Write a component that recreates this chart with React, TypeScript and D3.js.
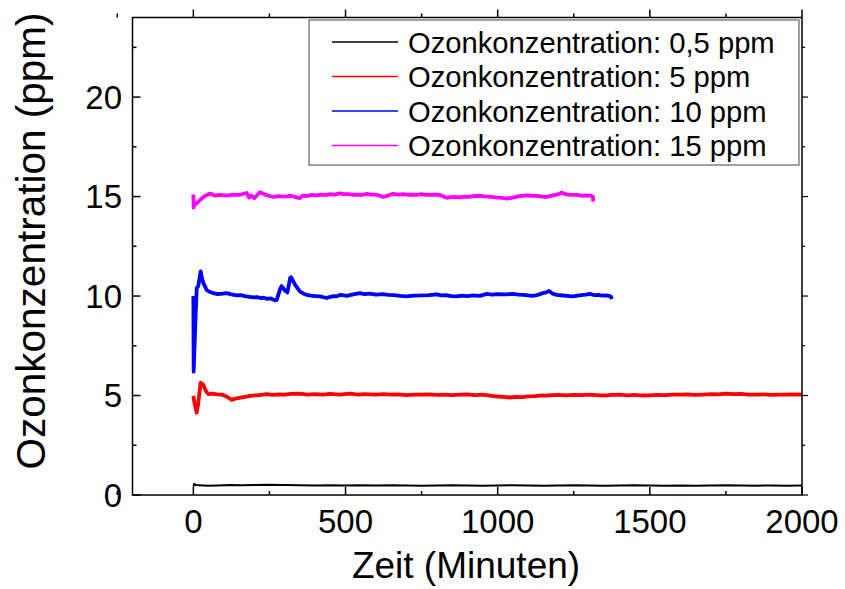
import React from "react";
import * as d3 from "d3";

// Ozone concentration traces: [time in minutes, concentration in ppm]
const series05: [number, number][] = [
  [0, 0.42], [3, 0.56], [8, 0.5], [20, 0.49], [45, 0.47], [80, 0.48], [120, 0.5], [160, 0.49],
  [200, 0.5], [250, 0.51], [300, 0.5], [350, 0.49], [400, 0.48], [450, 0.49], [500, 0.48],
  [550, 0.49], [600, 0.48], [650, 0.49], [700, 0.48], [750, 0.47], [800, 0.48], [850, 0.49],
  [900, 0.48], [950, 0.47], [1000, 0.48], [1050, 0.49], [1100, 0.48], [1150, 0.47], [1200, 0.48],
  [1250, 0.49], [1300, 0.48], [1350, 0.47], [1400, 0.48], [1450, 0.49], [1500, 0.48], [1550, 0.47],
  [1600, 0.48], [1650, 0.47], [1700, 0.48], [1750, 0.49], [1800, 0.48], [1850, 0.47], [1900, 0.48],
  [1950, 0.47], [2000, 0.48],
];

const series5: [number, number][] = [
  [0, 4.98], [4, 4.6], [11, 4.14], [16, 4.6], [24, 5.65], [33, 5.53], [42, 5.2], [49, 5.07],
  [62, 5.1], [77, 5.06], [95, 5.04], [109, 4.95], [126, 4.78], [142, 4.86], [165, 4.92], [186, 4.98],
  [215, 5.02], [241, 5.07], [260, 5.03], [280, 5.06], [300, 5.04], [320, 5.08], [350, 5.1], [375, 5.05],
  [400, 5.07], [425, 5.04], [450, 5.08], [480, 5.05], [515, 5.1], [540, 5.05], [560, 5.07], [600, 5.04],
  [625, 5.07], [650, 5.05], [675, 5.06], [700, 5.02], [725, 5.05], [750, 5.04], [775, 5.06], [800, 5.03],
  [825, 5.05], [850, 5.02], [875, 5.05], [900, 5.06], [925, 5.02], [950, 5.04], [975, 5.0], [1000, 4.95],
  [1020, 4.93], [1040, 4.9], [1060, 4.93], [1080, 4.92], [1100, 4.96], [1120, 4.97], [1140, 5.0],
  [1160, 4.99], [1180, 5.02], [1200, 5.03], [1225, 5.01], [1250, 5.03], [1275, 5.02], [1300, 5.05],
  [1325, 5.02], [1350, 5.0], [1375, 5.03], [1400, 5.04], [1425, 5.01], [1450, 5.03], [1475, 5.0],
  [1500, 5.01], [1525, 5.03], [1550, 5.02], [1575, 5.05], [1600, 5.04], [1625, 5.06], [1650, 5.03],
  [1675, 5.05], [1700, 5.07], [1725, 5.06], [1750, 5.1], [1775, 5.07], [1800, 5.08], [1825, 5.05],
  [1850, 5.04], [1875, 5.06], [1900, 5.03], [1925, 5.05], [1950, 5.04], [1975, 5.06], [2000, 5.04],
];

const series10: [number, number][] = [
  [0, 10.0], [1, 6.2], [5, 8.0], [11, 10.4], [16, 10.5], [24, 11.24], [28, 10.9], [33, 10.65],
  [44, 10.3], [55, 10.2], [65, 10.15], [80, 10.1], [97, 10.12], [109, 10.15], [125, 10.08],
  [142, 10.03], [155, 10.05], [170, 10.0], [185, 9.96], [197, 9.93], [210, 9.95], [220, 9.9],
  [232, 9.92], [241, 9.86], [255, 9.88], [268, 9.78], [274, 9.81], [285, 10.35], [290, 10.5],
  [301, 10.28], [309, 10.18], [318, 10.9], [321, 10.95], [334, 10.57], [350, 10.23], [362, 10.12],
  [372, 10.06], [386, 10.02], [400, 10.0], [416, 9.98], [428, 9.94], [438, 9.9], [450, 9.96],
  [460, 10.0], [472, 9.98], [482, 10.06], [495, 10.03], [504, 10.01], [525, 10.08], [547, 10.15],
  [562, 10.1], [580, 10.12], [600, 10.07], [623, 10.1], [640, 10.06], [660, 10.05], [680, 10.01],
  [701, 9.98], [725, 10.02], [750, 10.03], [775, 10.05], [800, 10.08], [815, 10.03], [830, 10.04],
  [848, 10.0], [865, 9.98], [882, 10.02], [900, 10.0], [920, 10.03], [942, 10.01], [964, 10.11],
  [982, 10.07], [1000, 10.1], [1025, 10.08], [1050, 10.11], [1068, 10.07], [1085, 10.06],
  [1100, 10.03], [1116, 10.01], [1132, 10.06], [1149, 10.15], [1160, 10.18], [1169, 10.26],
  [1180, 10.12], [1194, 10.06], [1207, 10.04], [1220, 10.02], [1235, 10.0], [1248, 9.98],
  [1262, 10.02], [1275, 10.05], [1290, 10.07], [1303, 10.11], [1316, 10.05], [1330, 10.06],
  [1345, 10.02], [1358, 10.03], [1368, 10.0], [1372, 9.98], [1375, 9.85],
];

const series15: [number, number][] = [
  [0, 15.1], [1, 14.45], [4, 14.6], [10, 14.65], [20, 14.8], [35, 15.0], [55, 15.15], [70, 15.05],
  [90, 15.08], [110, 15.05], [130, 15.1], [150, 15.08], [175, 15.18], [183, 14.95], [190, 15.05],
  [200, 14.92], [210, 15.08], [219, 15.22], [235, 15.1], [248, 15.04], [262, 14.98], [280, 15.02],
  [300, 15.0], [320, 15.04], [340, 14.96], [350, 14.92], [360, 15.05], [375, 15.03], [390, 15.08],
  [405, 15.06], [420, 15.1], [435, 15.07], [450, 15.12], [465, 15.1], [480, 15.16], [495, 15.12],
  [510, 15.12], [525, 15.09], [540, 15.1], [555, 15.08], [570, 15.13], [585, 15.1], [600, 15.1],
  [612, 15.05], [623, 14.98], [640, 15.05], [656, 15.14], [672, 15.1], [690, 15.12], [705, 15.09],
  [720, 15.1], [735, 15.08], [750, 15.12], [765, 15.09], [780, 15.08], [795, 15.1], [810, 15.08],
  [820, 15.02], [832, 14.94], [845, 14.97], [860, 14.98], [875, 14.96], [890, 15.0], [905, 14.98],
  [920, 15.02], [942, 15.04], [955, 15.01], [970, 15.0], [985, 14.97], [1000, 14.95], [1015, 14.93],
  [1030, 14.9], [1045, 14.94], [1060, 14.98], [1078, 15.03], [1095, 15.06], [1112, 15.04],
  [1130, 15.03], [1145, 15.0], [1161, 14.98], [1175, 15.03], [1190, 15.08], [1200, 15.12],
  [1211, 15.2], [1220, 15.13], [1230, 15.1], [1245, 15.08], [1260, 15.08], [1275, 15.05],
  [1290, 15.06], [1305, 15.04], [1313, 15.0], [1314, 14.75],
];

const legendLabels = [
  "Ozonkonzentration: 0,5 ppm",
  "Ozonkonzentration: 5 ppm",
  "Ozonkonzentration: 10 ppm",
  "Ozonkonzentration: 15 ppm",
];
const seriesColors = ["#000000", "#ff0000", "#0000ff", "#ff00ff"];
const seriesWidths = [2, 3.8, 3.8, 3.8];

const xMajorTicks = [0, 500, 1000, 1500, 2000];
const xMinorTicks = [-250, 250, 750, 1250, 1750];
const yMajorTicks = [0, 5, 10, 15, 20];
const yMinorTicks = [2.5, 7.5, 12.5, 17.5, 22.5];

const xTitle = "Zeit (Minuten)";
const yTitle = "Ozonkonzentration (ppm)";

const W = 845;
const H = 589;
const plot = { left: 132.5, right: 802, top: 17.5, bottom: 495 };

export default function App() {
  const x = d3.scaleLinear().domain([-200, 2000]).range([plot.left, plot.right]);
  const y = d3.scaleLinear().domain([0, 24]).range([plot.bottom, plot.top]);
  const line = d3
    .line<[number, number]>()
    .x((d) => x(d[0]))
    .y((d) => y(d[1]))
    .curve(d3.curveLinear);

  const allSeries = [series05, series5, series10, series15];
  const font = "Liberation Sans, Arial, Helvetica, sans-serif";
  const legendRowY = [42, 76.5, 111, 145.5];

  return (
    <svg
      width={W}
      height={H}
      style={{ position: "absolute", left: 0, top: 0, background: "#fff" }}
      fontFamily={font}
    >
      <defs>
        <clipPath id="plotClip">
          <rect x={plot.left} y={plot.top} width={plot.right - plot.left} height={plot.bottom - plot.top} />
        </clipPath>
      </defs>

      {/* data traces */}
      <g clipPath="url(#plotClip)" fill="none" strokeLinejoin="round">
        {allSeries.map((s, i) => (
          <path key={i} d={line(s) || ""} stroke={seriesColors[i]} strokeWidth={seriesWidths[i]} />
        ))}
      </g>

      {/* frame */}
      <rect
        x={plot.left}
        y={plot.top}
        width={plot.right - plot.left}
        height={plot.bottom - plot.top}
        fill="none"
        stroke="#000"
        strokeWidth={1.5}
      />

      {/* bottom ticks (inward) and top ticks (outward) */}
      {xMajorTicks.map((t) => (
        <g key={"xm" + t}>
          <line x1={x(t)} x2={x(t)} y1={plot.bottom} y2={plot.bottom - 8} stroke="#000" strokeWidth={1.5} />
          <line x1={x(t)} x2={x(t)} y1={plot.top} y2={plot.top - 8} stroke="#000" strokeWidth={1.5} />
          <text x={x(t)} y={533} textAnchor="middle" fontSize={33}>
            {t}
          </text>
        </g>
      ))}
      {xMinorTicks.map((t) => (
        <g key={"xn" + t}>
          <line x1={x(t)} x2={x(t)} y1={plot.bottom} y2={plot.bottom - 4} stroke="#000" strokeWidth={1.5} />
          <line x1={x(t)} x2={x(t)} y1={plot.top} y2={plot.top - 4} stroke="#000" strokeWidth={1.5} />
        </g>
      ))}

      {/* left ticks (inward) and right ticks (outward) */}
      {yMajorTicks.map((t) => (
        <g key={"ym" + t}>
          <line x1={plot.left} x2={plot.left + 8} y1={y(t)} y2={y(t)} stroke="#000" strokeWidth={1.5} />
          <line x1={plot.right} x2={plot.right + 6} y1={y(t)} y2={y(t)} stroke="#000" strokeWidth={1.2} />
          <text x={122} y={y(t) + 11.8} textAnchor="end" fontSize={33}>
            {t}
          </text>
        </g>
      ))}
      {yMinorTicks.map((t) => (
        <g key={"yn" + t}>
          <line x1={plot.left} x2={plot.left + 4} y1={y(t)} y2={y(t)} stroke="#000" strokeWidth={1.5} />
          <line x1={plot.right} x2={plot.right + 3} y1={y(t)} y2={y(t)} stroke="#000" strokeWidth={1.2} />
        </g>
      ))}

      {/* axis titles */}
      <text x={466} y={578} textAnchor="middle" fontSize={37}>
        {xTitle}
      </text>
      <text transform="translate(45, 241) rotate(-90)" textAnchor="middle" fontSize={40.5}>
        {yTitle}
      </text>

      {/* legend */}
      <rect x={309} y={20} width={490} height={145} fill="#fff" stroke="#444" strokeWidth={1} />
      {legendLabels.map((lab, i) => (
        <g key={lab}>
          <line
            x1={332}
            x2={398}
            y1={legendRowY[i]}
            y2={legendRowY[i]}
            stroke={seriesColors[i]}
            strokeWidth={1.5}
          />
          <text x={408} y={legendRowY[i] + 10.5} fontSize={29.2}>
            {lab}
          </text>
        </g>
      ))}
    </svg>
  );
}
